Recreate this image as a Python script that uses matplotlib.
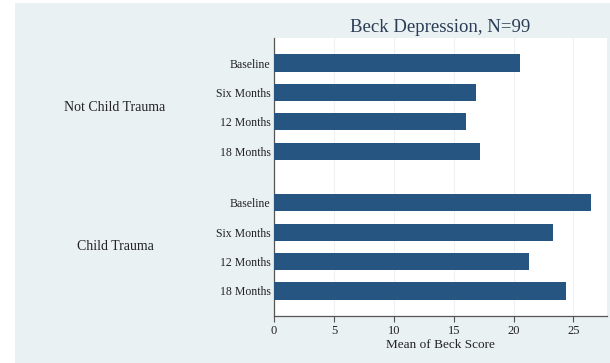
import numpy as np
import matplotlib
matplotlib.use("Agg")
import matplotlib.pyplot as plt
from matplotlib.patches import Rectangle
import matplotlib.transforms as mtransforms

groups = ['Not Child Trauma', 'Child Trauma']
times = ['Baseline', 'Six Months', '12 Months', '18 Months']
not_trauma = [20.5, 16.9, 16.0, 17.2]
trauma = [26.5, 23.3, 21.3, 24.4]

plt.rcParams['font.family'] = ['Liberation Serif', 'DejaVu Serif']

bar_color = '#255580'
bg = '#eaf1f3'

fig = plt.figure(figsize=(6.1, 3.63), dpi=100, facecolor='white')
fig.patches.append(Rectangle((15 / 610, 0), 1, 1 - 3 / 363, transform=fig.transFigure,
                             facecolor=bg, edgecolor='none', zorder=-10))
ax = fig.add_axes([274 / 610, 1 - 316 / 363, (607 - 274) / 610, (316 - 38) / 363])
ax.set_zorder(1)
ax.set_facecolor('white')

gap = 1.75
pos1 = np.arange(4)
pos2 = np.arange(4) + 3 + gap
ax.barh(pos1, not_trauma, height=0.58, color=bar_color, zorder=3)
ax.barh(pos2, trauma, height=0.58, color=bar_color, zorder=3)

ax.set_ylim(pos2[-1] + 0.85, -0.85)
ax.set_xlim(0, 27.8)
ax.set_yticks(np.concatenate([pos1, pos2]))
ax.set_yticklabels(times + times, fontsize=8.5, color='#222222')
ax.tick_params(axis='y', length=0, pad=2.5)
ax.set_xticks([0, 5, 10, 15, 20, 25])
ax.tick_params(axis='x', labelsize=9, length=4, color='#555555', pad=2.5, labelcolor='#222222')
ax.grid(axis='x', color='#eef2f2', linewidth=0.8, zorder=0)

for s in ['top', 'right']:
    ax.spines[s].set_visible(False)
for s in ['left', 'bottom']:
    ax.spines[s].set_color('#555555')
    ax.spines[s].set_linewidth(0.9)

ax.set_xlabel('Mean of Beck Score', fontsize=9.5, labelpad=1.5, color='#222222')
ax.set_title('Beck Depression, N=99', fontsize=13.5, color='#2a3d55', pad=4)

trans = mtransforms.blended_transform_factory(fig.transFigure, ax.transData)
ax.text(115 / 610, pos1.mean(), groups[0], transform=trans, ha='center', va='center',
        fontsize=10, color='#222222')
ax.text(115 / 610, pos2.mean(), groups[1], transform=trans, ha='center', va='center',
        fontsize=10, color='#222222')

fig.savefig('out.png', dpi=100, facecolor=fig.get_facecolor())
